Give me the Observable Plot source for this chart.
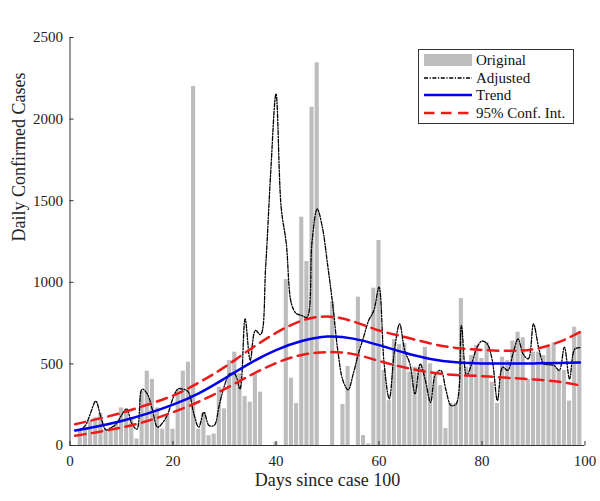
<!DOCTYPE html>
<html>
<head>
<meta charset="utf-8">
<script src="https://cdn.jsdelivr.net/npm/d3@7"></script>
<script src="https://cdn.jsdelivr.net/npm/@observablehq/plot@0.6"></script>
<style>
  html, body { margin: 0; padding: 0; background: #fff; }
  #wrap { position: relative; width: 600px; height: 501px; }
  #legend { position: absolute; left: 418px; top: 49px; width: 156px; height: 75px;
    border: 1px solid #333; background: #fff; box-sizing: border-box;
    font-family: "Liberation Serif", serif; font-size: 15px; color: #111; }
  .row { position: absolute; left: 0; height: 18px; width: 100%; }
  .row svg { position: absolute; left: 5px; top: 0; }
  .row span { position: absolute; left: 57px; top: 0; line-height: 18px; white-space: nowrap; }
</style>
</head>
<body>
<div id="wrap"></div>
<script>
const days = [1,2,3,4,5,6,7,8,9,10,11,12,13,14,15,16,17,18,19,20,21,22,23,24,25,26,27,28,29,30,
  31,32,33,34,35,36,37,38,39,40,41,42,43,44,45,46,47,48,49,50,51,52,53,54,55,56,57,58,59,60,
  61,62,63,64,65,66,67,68,69,70,71,72,73,74,75,76,77,78,79,80,81,82,83,84,85,86,87,88,89,90,
  91,92,93,94,95,96,97,98,99];

const original = [0,100,110,150,170,195,100,110,130,230,
  220,170,40,330,455,405,230,100,180,100,
  340,455,510,2200,100,200,60,70,357,225,
  520,572,440,300,265,440,327,0,0,20,
  0,1017,412,257,1399,1127,2073,2345,0,0,
  880,0,251,484,0,909,61,10,964,1256,
  460,275,650,619,625,450,480,480,602,500,
  429,367,104,257,257,900,480,551,613,533,
  631,388,257,541,520,640,694,660,404,572,
  572,551,600,630,460,460,272,725,690];

const adjusted = [92,100,123,200,272,175,95,110,133,185,
  225,135,100,345,316,220,112,140,194,290,
  347,345,327,200,112,204,123,123,250,368,
  439,439,347,776,521,705,680,1100,1690,2155,
  1460,1236,868,807,797,785,1250,1450,1338,1113,
  868,582,398,341,439,562,664,766,827,970,
  500,286,582,745,582,500,316,500,400,265,
  439,460,340,245,255,735,429,500,600,640,
  623,521,276,480,460,560,653,560,531,745,
  600,500,495,490,460,602,408,590,600];

const fitDays = [1,5,10,15,20,25,30,35,40,45,50,55,60,65,70,75,80,85,90,95,99];
const trend = [92,115,150,195,250,320,410,505,585,640,668,655,615,568,530,510,503,502,503,505,508];
const upper = [130,160,200,250,306,385,480,590,690,765,790,760,705,665,625,598,585,580,590,635,695];
const lower = [60,80,110,150,204,268,345,430,505,555,572,560,518,478,448,432,425,415,405,390,368];

const xTicks = [0,20,40,60,80,100];
const yTicks = [0,500,1000,1500,2000,2500];

const bars = days.map((d, i) => ({day: d, value: original[i]}));
const adj = days.map((d, i) => ({day: d, value: adjusted[i]}));
const tr = fitDays.map((d, i) => ({day: d, value: trend[i]}));
const up = fitDays.map((d, i) => ({day: d, value: upper[i]}));
const lo = fitDays.map((d, i) => ({day: d, value: lower[i]}));

const axisColor = "#333";
const adjDash = "4,1.6,1.2,1.6";
const chart = Plot.plot({
  width: 600,
  height: 501,
  marginLeft: 69.5,
  marginRight: 15.5,
  marginTop: 37,
  marginBottom: 56,
  x: {domain: [0, 100]},
  y: {domain: [0, 2500]},
  style: {fontFamily: "'Liberation Serif', serif", fontSize: "15px", color: "#222", background: "#fff"},
  marks: [
    Plot.rectY(bars, {x1: d => d.day - 0.4, x2: d => d.day + 0.4, y: "value", fill: "#bdbdbd"}),
    Plot.line(adj, {x: "day", y: "value", stroke: "#000", strokeWidth: 1.3, strokeDasharray: adjDash, curve: "catmull-rom"}),
    Plot.line(tr, {x: "day", y: "value", stroke: "#0000ee", strokeWidth: 2.5, curve: "natural"}),
    Plot.line(up, {x: "day", y: "value", stroke: "#ee1a1a", strokeWidth: 2.5, strokeDasharray: "10.5,6.5", curve: "natural"}),
    Plot.line(lo, {x: "day", y: "value", stroke: "#ee1a1a", strokeWidth: 2.5, strokeDasharray: "10.5,6.5", curve: "natural"}),
    Plot.ruleX([0], {stroke: axisColor}),
    Plot.ruleY([0], {stroke: axisColor}),
    Plot.axisX({ticks: xTicks, tickSize: -4, tickPadding: 14, tickFormat: d => String(d), label: null, stroke: axisColor}),
    Plot.axisY({ticks: yTicks, tickSize: -4, tickPadding: 11, tickFormat: d => String(d), label: null, stroke: axisColor}),
    Plot.text(["Daily Confirmed Cases"], {frameAnchor: "left", rotate: -90, dx: -51, fontSize: 18, fill: "#222"}),
    Plot.text(["Days since case 100"], {frameAnchor: "bottom", dy: 40, fontSize: 18, fill: "#222"})
  ]
});
const wrap = document.getElementById("wrap");
wrap.appendChild(chart);

// Legend
const legendItems = [
  {label: "Original", kind: "bar"},
  {label: "Adjusted", kind: "line", stroke: "#000", width: 1.3, dash: adjDash},
  {label: "Trend", kind: "line", stroke: "#0000ee", width: 2.5, dash: null},
  {label: "95% Conf. Int.", kind: "line", stroke: "#ee1a1a", width: 2.5, dash: "10.5,6.5"}
];
const legend = document.createElement("div");
legend.id = "legend";
legendItems.forEach((it, i) => {
  const row = document.createElement("div");
  row.className = "row";
  row.style.top = (1 + i * 17.6) + "px";
  const ns = "http://www.w3.org/2000/svg";
  const s = document.createElementNS(ns, "svg");
  s.setAttribute("width", 48); s.setAttribute("height", 18);
  if (it.kind === "bar") {
    const r = document.createElementNS(ns, "rect");
    r.setAttribute("x", 0); r.setAttribute("y", 3); r.setAttribute("width", 48); r.setAttribute("height", 12);
    r.setAttribute("fill", "#bdbdbd");
    s.appendChild(r);
  } else {
    const l = document.createElementNS(ns, "line");
    l.setAttribute("x1", 0); l.setAttribute("x2", 48); l.setAttribute("y1", 9); l.setAttribute("y2", 9);
    l.setAttribute("stroke", it.stroke); l.setAttribute("stroke-width", it.width);
    if (it.dash) l.setAttribute("stroke-dasharray", it.dash);
    s.appendChild(l);
  }
  row.appendChild(s);
  const t = document.createElement("span");
  t.textContent = it.label;
  row.appendChild(t);
  legend.appendChild(row);
});
wrap.appendChild(legend);
</script>
</body>
</html>
